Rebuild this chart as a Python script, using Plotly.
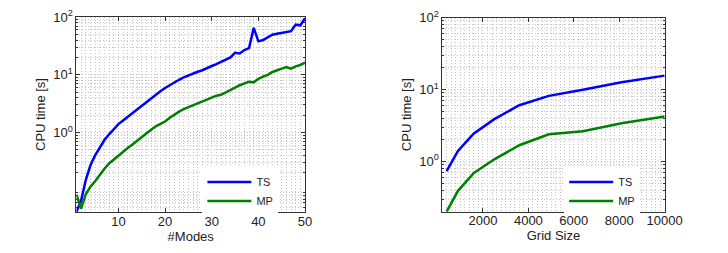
import plotly.graph_objects as go

# Left panel: CPU time vs number of modes
modes = list(range(1, 51))
ts_modes = [0.042, 0.066, 0.15, 0.27, 0.40, 0.56, 0.74, 0.93, 1.15, 1.40,
            1.62, 1.88, 2.2, 2.5, 2.9, 3.45, 4.0, 4.5, 5.2, 5.9,
            6.6, 7.5, 8.2, 9.0, 9.8, 10.6, 11.3, 12.0, 13.2, 14.2,
            15.3, 16.9, 18.4, 20.0, 24.0, 23.4, 26.8, 29.0, 65.0, 38.0,
            40.0, 45.0, 49.5, 51.5, 53.0, 55.0, 57.0, 74.0, 72.0, 96.0]
mp_modes = [0.084, 0.048, 0.085, 0.115, 0.143, 0.185, 0.235, 0.29, 0.34, 0.40,
            0.47, 0.54, 0.62, 0.72, 0.85, 0.98, 1.12, 1.28, 1.42, 1.55,
            1.8, 2.05, 2.3, 2.55, 2.75, 3.0, 3.25, 3.5, 3.8, 4.1,
            4.35, 4.5, 5.0, 5.5, 6.0, 6.6, 7.2, 7.6, 7.4, 8.5,
            9.3, 10.0, 11.2, 11.8, 12.8, 13.6, 12.8, 14.0, 14.8, 16.3]

# Right panel: CPU time vs grid size
grid = [400, 900, 1600, 2500, 3600, 4900, 6400, 8100, 10000]
ts_grid = [0.73, 1.40, 2.45, 3.87, 6.05, 8.15, 9.9, 12.6, 15.6]
mp_grid = [0.20, 0.39, 0.69, 1.07, 1.68, 2.39, 2.63, 3.4, 4.2]

left_xticks = [10, 20, 30, 40, 50]
right_xticks = [2000, 4000, 6000, 8000, 10000]
right_xtext = ["2000", "4000", "6000", "8000", "10000"]
ytick_vals = [1, 10, 100]
ytick_text = ["10<sup>0</sup>", "10<sup>1</sup>", "10<sup>2</sup>"]
y_minor_vals = [m * 10 ** e for e in (-2, -1, 0, 1) for m in range(2, 10)]

BLUE = "#0000ff"
GREEN = "#008000"
FONT = "Liberation Sans, Arial, sans-serif"
GRIDC = "#c4c4c4"
DASH = "1px,2px"

fig = go.Figure()
fig.add_trace(go.Scatter(x=modes, y=ts_modes, mode="lines", name="TS",
                         line=dict(color=BLUE, width=2.5), xaxis="x", yaxis="y"))
fig.add_trace(go.Scatter(x=modes, y=mp_modes, mode="lines", name="MP",
                         line=dict(color=GREEN, width=2.5), xaxis="x", yaxis="y"))
fig.add_trace(go.Scatter(x=grid, y=ts_grid, mode="lines", name="TS",
                         line=dict(color=BLUE, width=2.5), xaxis="x2", yaxis="y2",
                         legend="legend2"))
fig.add_trace(go.Scatter(x=grid, y=mp_grid, mode="lines", name="MP",
                         line=dict(color=GREEN, width=2.5), xaxis="x2", yaxis="y2",
                         legend="legend2"))

axis_common = dict(showline=True, linecolor="#333", linewidth=1, mirror="ticks",
                   ticks="inside", ticklen=4, tickcolor="#333", zeroline=False,
                   automargin=False, layer="below traces",
                   tickfont=dict(family=FONT, size=13, color="#222"),
                   showgrid=True, gridcolor=GRIDC, griddash=DASH, gridwidth=1)

title_font = dict(family=FONT, size=13, color="#222")

y_common = dict(axis_common, type="log", tickvals=ytick_vals, ticktext=ytick_text,
                minor=dict(tickmode="array", tickvals=y_minor_vals, ticks="inside",
                           ticklen=2, tickcolor="#333",
                           showgrid=True, gridcolor=GRIDC, griddash=DASH),
                title=dict(text="CPU time [s]", font=title_font, standoff=4))

legend_common = dict(xanchor="left", yanchor="bottom", bgcolor="white", borderwidth=0,
                     itemwidth=44, entrywidth=48, tracegroupgap=0,
                     font=dict(family=FONT, size=11, color="#222"))

fig.update_layout(
    width=728, height=253,
    margin=dict(l=0, r=0, t=0, b=0, autoexpand=False),
    paper_bgcolor="white", plot_bgcolor="white",
    showlegend=True,
    font=dict(family=FONT, size=12, color="#222"),
    xaxis=dict(axis_common, domain=[0.094, 0.408], range=[1, 50],
               tickvals=left_xticks, anchor="y", ticklabelstandoff=-3,
               minor=dict(dtick=1, showgrid=True, gridcolor=GRIDC, griddash=DASH),
               title=dict(text="#Modes", font=title_font, standoff=0)),
    yaxis=dict(y_common, domain=[0.194, 0.964], range=[-1.377, 2], anchor="x"),
    xaxis2=dict(axis_common, domain=[0.5966, 0.902], range=[211, 10000],
                tickvals=right_xticks, ticktext=right_xtext, anchor="y2",
                ticklabelstandoff=-3,
                minor=dict(dtick=200, tick0=0, showgrid=True, gridcolor=GRIDC, griddash=DASH),
                title=dict(text="Grid Size", font=title_font, standoff=0)),
    yaxis2=dict(y_common, domain=[0.195, 0.962], range=[-0.699, 2], anchor="x2"),
    legend=dict(legend_common, x=0.267, y=0.18),
    legend2=dict(legend_common, x=0.764, y=0.18),
)

fig.write_html("out.html")
